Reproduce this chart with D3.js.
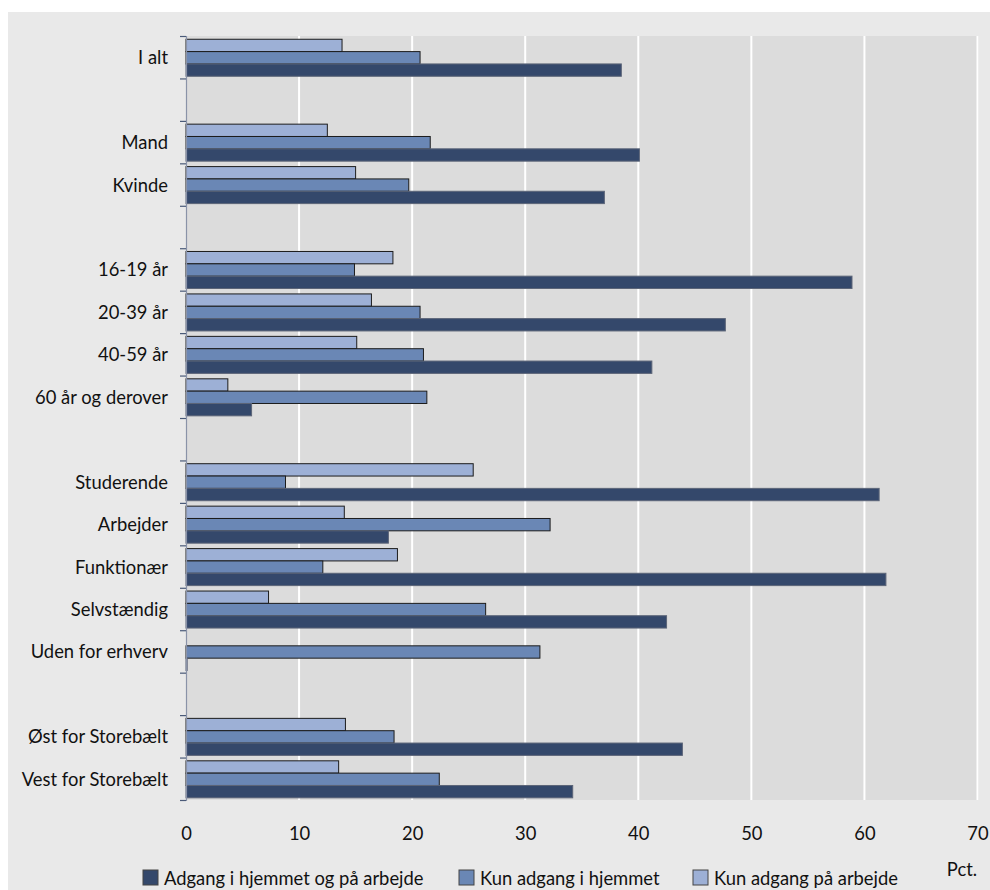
<!DOCTYPE html>
<html>
<head>
<meta charset="utf-8">
<script src="https://cdn.jsdelivr.net/npm/d3@7"></script>
<style>
  body { margin: 0; background: #ffffff; }
  svg text { font-family: Lato, "Open Sans", sans-serif; fill: #111; }
</style>
</head>
<body>
<svg id="chart" width="990" height="890"></svg>
<script>
// Rows from top to bottom; empty strings are spacer rows between groups
const categories = [
  "I alt", "",
  "Mand", "Kvinde", "",
  "16-19 år", "20-39 år", "40-59 år", "60 år og derover", "",
  "Studerende", "Arbejder", "Funktionær", "Selvstændig", "Uden for erhverv", "",
  "Øst for Storebælt", "Vest for Storebælt"
];

// Percent, one value per row (null for spacer rows)
const bothPlaces = [38.5, null, 40.1, 37.0, null, 58.9, 47.7, 41.2, 5.8, null, 61.3, 17.9, 61.9, 42.5, 0.1, null, 43.9, 34.2];
const homeOnly   = [20.7, null, 21.6, 19.7, null, 14.9, 20.7, 21.0, 21.3, null, 8.8, 32.2, 12.1, 26.5, 31.3, null, 18.4, 22.4];
const workOnly   = [13.8, null, 12.5, 15.0, null, 18.3, 16.4, 15.1, 3.7, null, 25.4, 14.0, 18.7, 7.3, 0, null, 14.1, 13.5];

const seriesNames = ["Adgang i hjemmet og på arbejde", "Kun adgang i hjemmet", "Kun adgang på arbejde"];
const xTicks = [0, 10, 20, 30, 40, 50, 60, 70];
const unitLabel = "Pct.";

const series = [
  { key: "work", name: seriesNames[2], values: workOnly,   fill: "#9db0d6", stroke: "#1c1c1c" },
  { key: "home", name: seriesNames[1], values: homeOnly,   fill: "#6a87b5", stroke: "#1c1c1c" },
  { key: "both", name: seriesNames[0], values: bothPlaces, fill: "#34486b", stroke: "#5c6578" }
];

const svg = d3.select("#chart");

const plot = { left: 186, right: 979, top: 36, bottom: 800 };
const FONT = 20;      // label size
const NARROW = 0.92;  // horizontal squeeze for a condensed look

// Text placed at (x, y) with a slightly condensed width
function label(sel, x, y) {
  return sel.attr("transform", `translate(${x},${y}) scale(${NARROW},1)`)
    .attr("dy", "0.35em").attr("font-size", FONT);
}

// Panel background
svg.append("rect").attr("x", 8).attr("y", 12).attr("width", 982).attr("height", 878).attr("fill", "#e9e9e9");
svg.append("rect").attr("x", plot.left).attr("y", plot.top)
  .attr("width", plot.right - plot.left).attr("height", plot.bottom - plot.top).attr("fill", "#dcdcdc");

const x = d3.scaleLinear().domain([0, 70]).range([plot.left, 977.5]);
const rows = d3.range(categories.length);
const y = d3.scaleBand().domain(rows).range([plot.top, plot.bottom]).padding(0);
const yInner = d3.scaleBand().domain(series.map(s => s.key)).range([0, y.bandwidth()])
  .paddingInner(0).paddingOuter(0.22).align(0.6);

// Vertical gridlines
svg.append("g").selectAll("line").data(xTicks.filter(t => t > 0)).join("line")
  .attr("x1", d => x(d)).attr("x2", d => x(d))
  .attr("y1", plot.top).attr("y2", plot.bottom)
  .attr("stroke", "#ffffff").attr("stroke-width", 2);

// Bars
series.forEach(s => {
  svg.append("g").selectAll("rect")
    .data(rows.filter(i => s.values[i] !== null && s.values[i] > 0))
    .join("rect")
    .attr("x", x(0))
    .attr("y", i => y(i) + yInner(s.key))
    .attr("width", i => x(s.values[i]) - x(0))
    .attr("height", yInner.bandwidth())
    .attr("fill", s.fill)
    .attr("stroke", s.stroke)
    .attr("stroke-width", 1);
});

// Category axis: ticks on row boundaries
const yEdges = d3.scaleLinear().domain([0, categories.length]).range([plot.top, plot.bottom]);
const yAxis = svg.append("g").attr("transform", `translate(${plot.left},0)`)
  .call(d3.axisLeft(yEdges).tickValues(d3.range(categories.length + 1)).tickSize(6).tickFormat(""));
yAxis.select(".domain").attr("stroke", "#8a93a8").attr("stroke-width", 1.2);
yAxis.selectAll(".tick line").attr("stroke", "#4a5a78").attr("stroke-width", 1.2);

// Category labels
svg.append("g").selectAll("text").data(rows.filter(i => categories[i] !== "")).join("text")
  .call(sel => sel.each(function (i) { label(d3.select(this), 168, y(i) + y.bandwidth() / 2); }))
  .attr("text-anchor", "end")
  .text(i => categories[i]);

// Value axis
const xAxis = svg.append("g").attr("transform", `translate(0,${plot.bottom})`)
  .call(d3.axisBottom(x).tickValues(xTicks).tickSize(0).tickFormat(""));
xAxis.select(".domain").remove();
xAxis.selectAll(".tick").append("text")
  .attr("text-anchor", "middle")
  .each(function () { label(d3.select(this), 0, 33); })
  .text(d => d);

label(svg.append("text"), 962, 869).attr("text-anchor", "middle").text(unitLabel);

// Legend
const legendItems = [series[2], series[1], series[0]].map((s, k) => ({ s, x: [143, 459, 693][k] }));

const legend = svg.append("g").selectAll("g").data(legendItems).join("g")
  .attr("transform", d => `translate(${d.x},878)`);
legend.append("rect").attr("x", 0).attr("y", -8).attr("width", 15).attr("height", 15)
  .attr("fill", d => d.s.fill).attr("stroke", "#444").attr("stroke-width", 1);
legend.append("text").each(function () { label(d3.select(this), 21, 0); })
  .text(d => d.s.name);
</script>
</body>
</html>
